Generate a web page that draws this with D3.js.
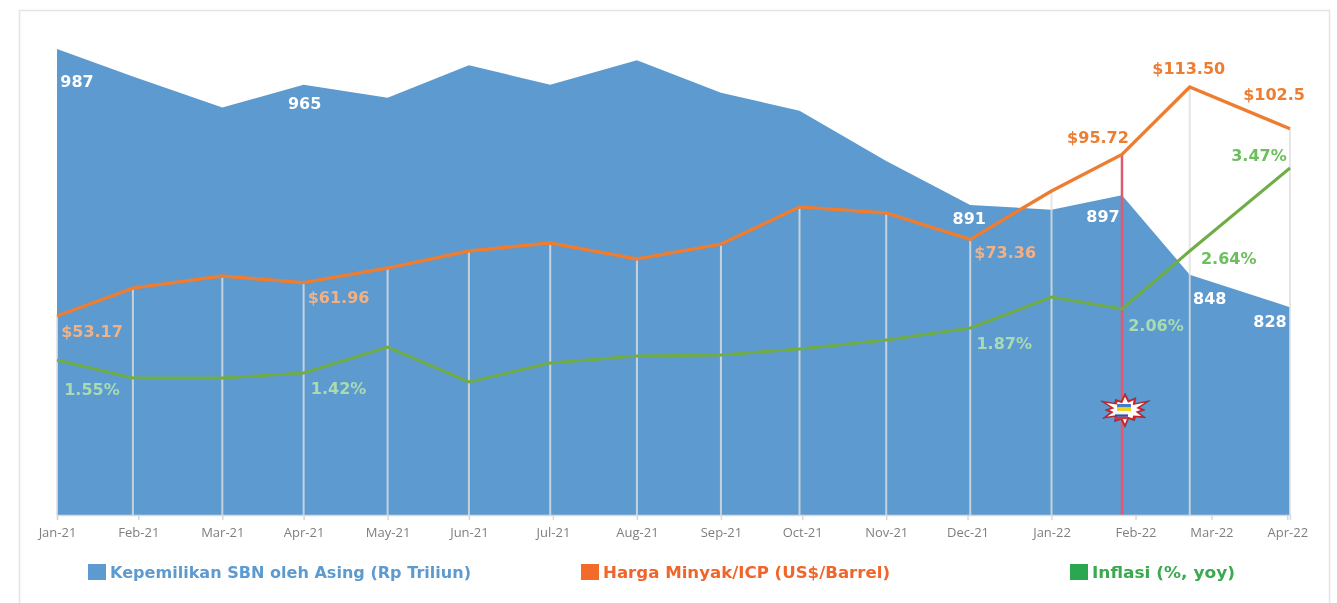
<!DOCTYPE html>
<html>
<head>
<meta charset="utf-8">
<script src="https://cdnjs.cloudflare.com/ajax/libs/d3/7.8.5/d3.min.js"></script>
<style>
  html, body { margin: 0; padding: 0; background: #fff; overflow: hidden; }
  svg { display: block; filter: blur(0.55px); }
</style>
</head>
<body>
<div id="chart"></div>
<script>
const obsDates = ["2021-01-01","2021-01-29","2021-03-03","2021-04-02","2021-05-03","2021-06-02","2021-07-02","2021-08-03","2021-09-03","2021-10-02","2021-11-03","2021-12-04","2022-01-03","2022-01-29","2022-02-23","2022-04-01"]
const sbnValues = [987,970,951,965,957,977,965,980,960,949,918,891,888,897,848,828]
const oilValues = [53.17,60.5,63.7,61.96,65.8,70.3,72.4,68.2,72.1,81.9,80.3,73.36,86.1,95.72,113.5,102.5]
const inflationValues = [1.55,1.37,1.37,1.42,1.68,1.33,1.52,1.59,1.60,1.66,1.75,1.87,2.18,2.06,2.64,3.47]

const tickDates = ["2021-01-01","2021-01-31","2021-03-03","2021-04-02","2021-05-03","2021-06-02","2021-07-03","2021-08-03","2021-09-03","2021-10-03","2021-11-03","2021-12-03","2022-01-03","2022-02-03","2022-03-03","2022-03-31"]
const tickLabels = ["Jan-21","Feb-21","Mar-21","Apr-21","May-21","Jun-21","Jul-21","Aug-21","Sep-21","Oct-21","Nov-21","Dec-21","Jan-22","Feb-22","Mar-22","Apr-22"]

const legendLabels = ["Kepemilikan SBN oleh Asing (Rp Triliun)","Harga Minyak/ICP (US$/Barrel)","Inflasi (%, yoy)"]

// which points carry a value label
const labelIdx = [0,3,11,13,14,15]
const oilText = ["$53.17","$61.96","$73.36","$95.72","$113.50","$102.5"]

const width = 1337
const height = 603
const plotTop = 49, plotBottom = 515
const warIdx = 13

const parseDate = d3.timeParse("%Y-%m-%d")
const dates = obsDates.map(parseDate)

const x = d3.scaleTime()
  .domain([parseDate("2021-01-01"), parseDate("2022-04-01")])
  .range([57, 1290])
const ySbn = d3.scaleLinear().domain([700, 987]).range([plotBottom, plotTop])
const yOil = d3.scaleLinear().domain([0.75, 123.5]).range([plotBottom, plotTop])
const yInf = d3.scaleLinear().domain([0, 4.66]).range([plotBottom, plotTop])

const svg = d3.select("#chart").append("svg")
  .attr("width", width)
  .attr("height", height)

// outer frame, runs off the bottom of the image
svg.append("rect")
  .attr("x", 19.5).attr("y", 10.5)
  .attr("width", 1310).attr("height", 620)
  .attr("fill", "#fff")
  .attr("stroke", "#e4e4e4")
  .attr("stroke-width", 1.5)

const area = d3.area()
  .x((d, i) => x(dates[i]))
  .y0(plotBottom)
  .y1(d => ySbn(d))

svg.append("path")
  .datum(sbnValues)
  .attr("d", area)
  .attr("fill", "#5c9ad0")

// drop lines from the oil line to the axis
svg.selectAll(".drop")
  .data(dates)
  .enter()
  .append("line")
  .attr("class", "drop")
  .attr("x1", d => x(d))
  .attr("x2", d => x(d))
  .attr("y1", (d, i) => yOil(oilValues[i]))
  .attr("y2", plotBottom)
  .attr("stroke", (d, i) => i == warIdx ? "none" : "#e0e0e0")
  .attr("stroke-opacity", 0.8)
  .attr("stroke-width", 2)

// the red marker line on Feb-22
svg.append("line")
  .attr("x1", x(dates[warIdx])).attr("x2", x(dates[warIdx]))
  .attr("y1", yOil(oilValues[warIdx])).attr("y2", plotBottom)
  .attr("stroke", "#dd5a72")
  .attr("stroke-width", 2.5)

const xAxis = d3.axisBottom(x)
  .tickValues(tickDates.map(parseDate))
  .tickFormat((d, i) => tickLabels[i])
  .tickSize(5)
  .tickPadding(8)

const axisG = svg.append("g")
  .attr("transform", "translate(0," + plotBottom + ")")
  .call(xAxis)
axisG.select(".domain").attr("stroke", "#d9d9d9").attr("stroke-width", 1.5)
axisG.selectAll(".tick line").attr("stroke", "#d9d9d9").attr("stroke-width", 1.5)
axisG.selectAll("text")
  .attr("fill", "#7f7f7f")
  .style("font-family", "'Open Sans'")
  .style("font-size", "13px")

const oilLine = d3.line().x((d, i) => x(dates[i])).y(d => yOil(d))
const infLine = d3.line().x((d, i) => x(dates[i])).y(d => yInf(d))

svg.append("path")
  .datum(oilValues)
  .attr("d", oilLine)
  .attr("fill", "none")
  .attr("stroke", "#ed7d31")
  .attr("stroke-width", 3.4)

svg.append("path")
  .datum(inflationValues)
  .attr("d", infLine)
  .attr("fill", "none")
  .attr("stroke", "#70ad47")
  .attr("stroke-width", 3)

// value labels, offsets from the data point
const sbnOffsets = [[20,32],[1,19],[-1,14],[-19,21],[20,24],[-20,14]]
const oilOffsets = [[35,16],[35,15],[35,13],[-24,-17],[-1,-18],[-16,-34]]
const infOffsets = [[35,29],[35,15],[34,15],[34,16],[39,7],[-31,-13]]

function labels(offsets, values, yScale, fmt, colors) {
  svg.selectAll(null)
    .data(labelIdx)
    .enter()
    .append("text")
    .attr("x", (d, i) => x(dates[d]) + offsets[i][0])
    .attr("y", (d, i) => yScale(values[d]) + offsets[i][1])
    .attr("text-anchor", "middle")
    .attr("dominant-baseline", "central")
    .attr("fill", (d, i) => colors[i])
    .style("font-family", "'DejaVu Sans'")
    .style("font-weight", "bold")
    .style("font-size", "16px")
    .text(fmt)
}

labels(sbnOffsets, sbnValues, ySbn, d => sbnValues[d],
  ["#fff","#fff","#fff","#fff","#fff","#fff"])
labels(oilOffsets, oilValues, yOil, (d, i) => oilText[i],
  ["#f2b184","#f2b184","#f2b184","#ed7d31","#ed7d31","#ed7d31"])
labels(infOffsets, inflationValues, yInf, d => inflationValues[d].toFixed(2) + "%",
  ["#a8dcb0","#a8dcb0","#a8dcb0","#a8dcb0","#6cbf5c","#6cbf5c"])

// burst with the two flags on the Feb-22 line
const burstRadii = [26,15,22,14,29,15,20,14,24,15,19,14,27,15,21,14,26,15,20,14,28,15,19,14]
const burst = svg.append("g")
  .attr("transform", "translate(" + (x(dates[warIdx]) + 3) + ",410)")
const radial = d3.lineRadial()
  .angle((d, i) => i / burstRadii.length * 2 * Math.PI)
  .radius(d => d)
  .curve(d3.curveLinearClosed)
burst.append("path")
  .attr("d", radial(burstRadii))
  .attr("transform", "scale(1,0.65)")
  .attr("fill", "#d9202a")
  .attr("stroke", "#5a2a2a")
  .attr("stroke-width", 0.5)
burst.append("path")
  .attr("d", radial(burstRadii.map(r => r * 0.78)))
  .attr("transform", "scale(1,0.65)")
  .attr("fill", "#fff")

const ukraineStripes = ["#3f7fc4","#f2d21f"]
const russiaStripes = ["#f4f4f4","#2f4fa8","#d8343f"]
burst.selectAll(".ua")
  .data(ukraineStripes)
  .enter()
  .append("rect")
  .attr("class", "ua")
  .attr("x", -8)
  .attr("y", (d, i) => -6 + i * 3.5)
  .attr("width", 14)
  .attr("height", 3.5)
  .attr("fill", d => d)
burst.selectAll(".ru")
  .data(russiaStripes)
  .enter()
  .append("rect")
  .attr("class", "ru")
  .attr("x", -10)
  .attr("y", (d, i) => 2 + i * 2.4)
  .attr("width", 13)
  .attr("height", 2.4)
  .attr("fill", d => d)

// legend
const legendColors = ["#5c9ad0","#f26b2a","#2aa84f"]
const legendText = ["#5c9ad0","#f0652a","#3aa94f"]
const legendX = [88, 581, 1070]
const legendWidths = [361, 287, 143]

const legend = svg.selectAll(".legend")
  .data(legendLabels)
  .enter()
  .append("g")
  .attr("class", "legend")
  .attr("transform", (d, i) => "translate(" + legendX[i] + ",564)")
legend.append("rect")
  .attr("width", 18)
  .attr("height", 16)
  .attr("fill", (d, i) => legendColors[i])
legend.append("text")
  .attr("x", 22)
  .attr("y", 8)
  .attr("dominant-baseline", "central")
  .attr("fill", (d, i) => legendText[i])
  .attr("textLength", (d, i) => legendWidths[i])
  .attr("lengthAdjust", "spacingAndGlyphs")
  .style("font-family", "'DejaVu Sans'")
  .style("font-weight", "bold")
  .style("font-size", "16px")
  .text(d => d)
</script>
</body>
</html>
